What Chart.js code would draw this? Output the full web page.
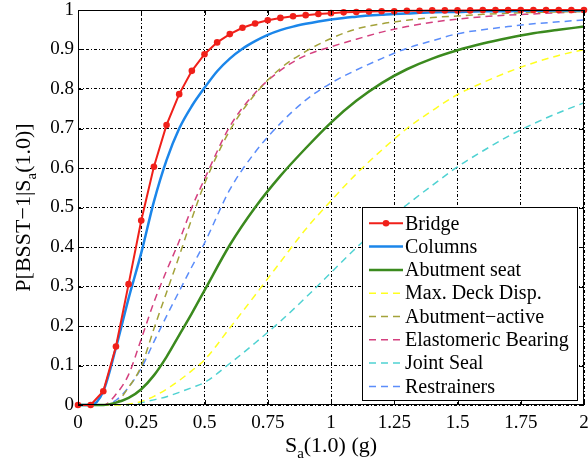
<!DOCTYPE html>
<html><head><meta charset="utf-8">
<script src="https://cdn.jsdelivr.net/npm/chart.js@4.4.0/dist/chart.umd.min.js"></script>
<style>html,body{margin:0;padding:0;background:#fff;} canvas{display:block;}</style>
</head><body>
<canvas id="c" width="588" height="461"></canvas>
<script>
// ---- data ----
const xFine = [0,0.05,0.1,0.15,0.2,0.25,0.3,0.35,0.4,0.45,0.5,0.55,0.6,0.65,0.7,0.75,0.8,0.85,0.9,0.95,1.0,1.05,1.1,1.15,1.2,1.25,1.3,1.35,1.4,1.45,1.5,1.55,1.6,1.65,1.7,1.75,1.8,1.85,1.9,1.95,2.0];
const xCoarse = [0,0.05,0.1,0.15,0.2,0.25,0.3,0.35,0.4,0.45,0.5,0.6,0.7,0.8,0.9,1.0,1.1,1.2,1.3,1.4,1.5,1.6,1.7,1.8,1.9,2.0];

const bridge = [0,0,0.035,0.148,0.306,0.467,0.603,0.709,0.787,0.846,0.888,0.918,0.939,0.955,0.966,0.974,0.980,0.984,0.987,0.990,0.992,0.994,0.995,0.996,0.997,0.997,0.998,0.998,0.999,0.999,0.999,0.999,1,1,1,1,1,1,1,1,1];
const columns = [0,0,0.035,0.145,0.27,0.385,0.515,0.62,0.70,0.757,0.803,0.845,0.877,0.902,0.921,0.937,0.949,0.958,0.965,0.971,0.976,0.980,0.983,0.986,0.988,0.990,0.991,0.993,0.994,0.995,0.995,0.996,0.997,0.997,0.997,0.998,0.998,0.998,0.999,0.999,0.999];
const abutmentSeat = [0,0,0,0.006,0.018,0.040,0.075,0.122,0.177,0.232,0.29,0.405,0.50,0.58,0.65,0.715,0.77,0.815,0.85,0.877,0.898,0.915,0.929,0.941,0.950,0.958];
const maxDeckDisp = [0,0,0,0,0.002,0.009,0.022,0.04,0.062,0.087,0.114,0.195,0.278,0.362,0.445,0.517,0.585,0.645,0.70,0.745,0.786,0.816,0.843,0.866,0.885,0.90];
const abutmentActive = [0,0,0,0.006,0.045,0.098,0.193,0.285,0.377,0.472,0.56,0.695,0.787,0.852,0.895,0.928,0.952,0.965,0.974,0.981,0.985,0.989,0.992,0.994,0.995,0.996];
const elastomericBearing = [0,0,0,0.027,0.077,0.167,0.26,0.34,0.415,0.50,0.572,0.705,0.79,0.847,0.885,0.907,0.926,0.944,0.958,0.969,0.977,0.983,0.987,0.990,0.993,0.995];
const jointSeal = [0,0,0,0,0.001,0.006,0.013,0.021,0.032,0.044,0.057,0.105,0.157,0.212,0.272,0.335,0.398,0.455,0.507,0.556,0.603,0.643,0.68,0.712,0.74,0.765];
const restrainers = [0,0,0,0.012,0.045,0.093,0.16,0.225,0.288,0.35,0.41,0.545,0.64,0.713,0.772,0.815,0.848,0.877,0.903,0.922,0.94,0.95,0.958,0.965,0.97,0.975];

const xTickVals = [0,0.25,0.5,0.75,1,1.25,1.5,1.75,2];
const xTickLabels = ['0','0.25','0.5','0.75','1','1.25','1.5','1.75','2'];
const yTickVals = [0,0.1,0.2,0.3,0.4,0.5,0.6,0.7,0.8,0.9,1];
const yTickLabels = ['0','0.1','0.2','0.3','0.4','0.5','0.6','0.7','0.8','0.9','1'];

const FONT = "'Liberation Serif', 'Times New Roman', serif";

function pts(xs, ys){ return xs.map((x,i)=>({x:x, y:ys[i]})); }
function line(label, xs, ys, color, width, dash){
  return {label, data: pts(xs, ys), borderColor: color, backgroundColor: color,
    borderWidth: width, borderDash: dash || [], pointRadius: 0, fill: false,
    cubicInterpolationMode: 'monotone', clip: 3};
}
const datasets = [
  Object.assign(line('Bridge', xFine, bridge, '#f0201a', 2, null),
    {pointRadius: 3.3, pointBorderWidth: 0, pointBackgroundColor: '#f0201a', cubicInterpolationMode: 'default', tension: 0, clip: 5, marker: true}),
  line('Columns', xFine, columns, '#1b86ea', 2.5, null),
  line('Abutment seat', xCoarse, abutmentSeat, '#3b8a1e', 2.5, null),
  line('Max. Deck Disp.', xCoarse, maxDeckDisp, '#ffff20', 1.5, [7,5]),
  line('Abutment\u2212active', xCoarse, abutmentActive, '#a3a23a', 1.5, [7,5]),
  line('Elastomeric Bearing', xCoarse, elastomericBearing, '#d4407f', 1.5, [7,5]),
  line('Joint Seal', xCoarse, jointSeal, '#4fd2d2', 1.5, [7,5]),
  line('Restrainers', xCoarse, restrainers, '#5b8dfa', 1.5, [7,5])
];

const decor = {
  id: 'decor',
  afterDraw(chart){
    const c = chart.ctx, a = chart.chartArea;
    const xs = chart.scales.x, ys = chart.scales.y;
    c.save();
    // frame
    c.strokeStyle = '#000'; c.lineWidth = 1; c.setLineDash([]);
    c.strokeRect(Math.round(a.left)+0.5, Math.round(a.top)+0.5, Math.round(a.right-a.left)-1, Math.round(a.bottom-a.top)-1);
    // inner ticks
    c.beginPath();
    xTickVals.forEach(v=>{ const p = Math.round(xs.getPixelForValue(v))+0.5;
      c.moveTo(p, a.bottom); c.lineTo(p, a.bottom-5); c.moveTo(p, a.top); c.lineTo(p, a.top+5); });
    yTickVals.forEach(v=>{ const p = Math.round(ys.getPixelForValue(v))+0.5;
      c.moveTo(a.left, p); c.lineTo(a.left+5, p); c.moveTo(a.right, p); c.lineTo(a.right-5, p); });
    c.stroke();
    // legend
    const L = 362.5, T = 207.5, R = 577.5, B = 400.5;
    c.fillStyle = '#fff'; c.fillRect(L, T, R-L, B-T);
    c.strokeStyle = '#000'; c.lineWidth = 1; c.strokeRect(L, T, R-L, B-T);
    c.font = '20px ' + FONT; c.textBaseline = 'middle'; c.textAlign = 'left';
    datasets.forEach((d,i)=>{
      const y = 223.3 + i*23.3;
      c.strokeStyle = d.borderColor; c.lineWidth = d.borderWidth; c.setLineDash(d.borderDash);
      c.beginPath(); c.moveTo(369, y); c.lineTo(403, y); c.stroke();
      c.setLineDash([]);
      if (d.marker){ c.fillStyle = d.borderColor; c.beginPath(); c.arc(386, y, 3.3, 0, Math.PI*2); c.fill(); }
      c.fillStyle = '#000'; c.fillText(d.label, 405, y+1);
    });
    // x title  S_a(1.0) (g)
    c.textBaseline = 'alphabetic'; c.fillStyle = '#000';
    const big = '22px ' + FONT, small = '15px ' + FONT;
    c.font = big; const wS = c.measureText('S').width, wR = c.measureText('(1.0) (g)').width;
    c.font = small; const wa = c.measureText('a').width;
    let x0 = (a.left + a.right)/2 - (wS + wa + wR)/2; const by = 452;
    c.font = big; c.fillText('S', x0, by);
    c.font = small; c.fillText('a', x0 + wS, by + 6);
    c.font = big; c.fillText('(1.0) (g)', x0 + wS + wa, by);
    // y title  P[BSST−1|S_a(1.0)]
    c.translate(30, (a.top + a.bottom)/2); c.rotate(-Math.PI/2);
    c.font = big; const w1 = c.measureText('P[BSST\u22121|S').width, w3 = c.measureText('(1.0)]').width;
    let y0 = -(w1 + wa + w3)/2;
    c.fillText('P[BSST\u22121|S', y0, 0);
    c.font = small; c.fillText('a', y0 + w1, 6);
    c.font = big; c.fillText('(1.0)]', y0 + w1 + wa, 0);
    c.restore();
  }
};

new Chart(document.getElementById('c'), {
  type: 'line',
  data: { datasets },
  options: {
    responsive: false, animation: false, devicePixelRatio: 1,
    layout: { padding: { left: 0, right: 4, top: 10, bottom: 0 } },
    plugins: { legend: { display: false }, tooltip: { enabled: false } },
    scales: {
      x: { type: 'linear', min: 0, max: 2,
        afterFit: s => { s.height = 56; s.paddingLeft = 0; s.paddingRight = 0; },
        afterBuildTicks: s => { s.ticks = xTickVals.map(v => ({ value: v })); },
        ticks: { callback: (v, i) => xTickLabels[i], font: { family: FONT, size: 19 }, color: '#000', padding: 7, maxRotation: 0, autoSkip: false },
        grid: { color: '#000', lineWidth: 1, drawTicks: false },
        border: { display: false, dash: [3, 2, 1, 2] } },
      y: { type: 'linear', min: 0, max: 1,
        afterFit: s => { s.width = 78; s.paddingTop = 0; s.paddingBottom = 0; },
        afterBuildTicks: s => { s.ticks = yTickVals.map(v => ({ value: v })); },
        ticks: { callback: (v, i) => yTickLabels[i], font: { family: FONT, size: 19 }, color: '#000', padding: 4, autoSkip: false },
        grid: { color: '#000', lineWidth: 1, drawTicks: false },
        border: { display: false, dash: [3, 2, 1, 2] } }
    }
  },
  plugins: [decor]
});
</script>
</body></html>
